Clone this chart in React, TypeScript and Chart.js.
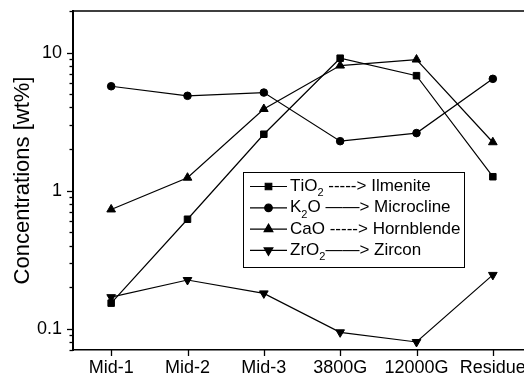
import React, { useEffect, useRef } from "react";
import { Chart, registerables } from "chart.js";
import { drawPoint } from "chart.js/helpers";

Chart.register(...registerables);

const categories = ["Mid-1", "Mid-2", "Mid-3", "3800G", "12000G", "Residue"];
const tio2 = [0.153, 0.62, 2.56, 9.1, 6.8, 1.26];
const k2o = [5.7, 4.86, 5.13, 2.28, 2.61, 6.45];
const cao = [0.73, 1.24, 3.9, 8.05, 8.9, 2.24];
const zro2 = [0.169, 0.225, 0.18, 0.094, 0.08, 0.245];
const seriesLabels = [
  "TiO\u2082 -----> Ilmenite",
  "K\u2082O \u2014\u2014> Microcline",
  "CaO -----> Hornblende",
  "ZrO\u2082\u2014\u2014> Zircon",
];
const majorTickLabels = [0.1, 1, 10];

const FONT = "'Liberation Sans', Arial, sans-serif";

function drawRichText(ctx: CanvasRenderingContext2D, text: string, x: number, y: number, size: number) {
  let cx = x;
  for (const ch of text) {
    if (ch === "\u2082") {
      ctx.font = `${Math.round(size * 0.62)}px ${FONT}`;
      ctx.fillText("2", cx, y + size * 0.4);
      cx += ctx.measureText("2").width;
    } else {
      ctx.font = `${size}px ${FONT}`;
      ctx.fillText(ch, cx, y);
      cx += ctx.measureText(ch).width;
    }
  }
}

const framePlugin = {
  id: "frameAndTicks",
  afterDraw(chart: any) {
    const ctx = chart.ctx as CanvasRenderingContext2D;
    const { left, right, top, bottom } = chart.chartArea;
    const ys = chart.scales.y;
    const xs = chart.scales.x;
    ctx.save();
    ctx.strokeStyle = "#000";
    // top and right frame
    ctx.lineWidth = 1.5;
    ctx.beginPath();
    ctx.moveTo(left, top);
    ctx.lineTo(right, top);
    ctx.lineTo(right, bottom);
    ctx.stroke();
    // y ticks (outside)
    for (let e = -2; e <= 1; e++) {
      for (let m = 1; m <= 9; m++) {
        const v = m * Math.pow(10, e);
        if (v < ys.min - 1e-9 || v > ys.max + 1e-9) continue;
        const py = Math.round(ys.getPixelForValue(v)) + 0.5;
        const len = m === 1 ? 6 : 3.5;
        ctx.lineWidth = 1.3;
        ctx.beginPath();
        ctx.moveTo(left - len, py);
        ctx.lineTo(left, py);
        ctx.stroke();
      }
    }
    // x ticks
    categories.forEach((_, i) => {
      const px = Math.round(xs.getPixelForValue(i)) + 0.5;
      ctx.lineWidth = 1.3;
      ctx.beginPath();
      ctx.moveTo(px, bottom);
      ctx.lineTo(px, bottom + 6);
      ctx.stroke();
    });
    // legend
    const bx = 243.5, by = 172.5, bw = 221, bh = 95;
    ctx.lineWidth = 1;
    ctx.strokeRect(bx, by, bw, bh);
    const fs = 17;
    chart.data.datasets.forEach((ds: any, i: number) => {
      const cy = 186.5 + i * 21.3;
      ctx.lineWidth = 1.2;
      ctx.strokeStyle = "#000";
      ctx.beginPath();
      ctx.moveTo(250, cy);
      ctx.lineTo(287, cy);
      ctx.stroke();
      ctx.fillStyle = "#000";
      drawPoint(ctx, { pointStyle: ds.pointStyle, rotation: ds.pointRotation || 0, radius: ds.pointRadius, borderWidth: 1 }, 268.5, cy);
      ctx.fillStyle = "#000";
      ctx.textBaseline = "middle";
      ctx.textAlign = "left";
      drawRichText(ctx, ds.label, 290, cy, fs);
    });
    ctx.restore();
  },
};

export default function App() {
  const ref = useRef<HTMLCanvasElement>(null);
  useEffect(() => {
    if (!ref.current) return;
    const mk = (label: string, data: number[], pointStyle: string, radius: number, rotation = 0) => ({
      label,
      data,
      pointStyle,
      pointRadius: radius,
      pointRotation: rotation,
      pointBackgroundColor: "#000",
      pointBorderColor: "#000",
      pointBorderWidth: 1,
      borderColor: "#000",
      borderWidth: 1.2,
      backgroundColor: "#000",
      tension: 0,
      fill: false,
    });
    const chart = new Chart(ref.current, {
      type: "line",
      data: {
        labels: categories,
        datasets: [
          mk(seriesLabels[0], tio2, "rect", 4.6),
          mk(seriesLabels[1], k2o, "circle", 3.8),
          mk(seriesLabels[2], cao, "triangle", 5),
          mk(seriesLabels[3], zro2, "triangle", 5, 180),
        ],
      },
      options: {
        animation: false,
        responsive: false,
        layout: { padding: { left: 0, top: 11, right: 9, bottom: 0 } },
        plugins: { legend: { display: false }, tooltip: { enabled: false } },
        scales: {
          x: {
            type: "category",
            offset: true,
            grid: { display: false, drawTicks: false },
            border: { display: true, color: "#000", width: 1.5 },
            ticks: { color: "#000", font: { family: FONT, size: 18 }, padding: 7, maxRotation: 0, autoSkip: false },
            afterFit: (s: any) => { s.height = 26; s.paddingLeft = 0; s.paddingRight = 0; },
          },
          y: {
            type: "logarithmic",
            min: 0.07,
            max: 20,
            grid: { display: false, drawTicks: false },
            border: { display: true, color: "#000", width: 2 },
            ticks: {
              color: "#000",
              font: { family: FONT, size: 18 },
              padding: 11,
              autoSkip: false,
              callback: (v: any) => {
                const n = Number(v);
                const hit = majorTickLabels.find((t) => Math.abs(t - n) / t < 1e-6);
                return hit !== undefined ? String(hit) : "";
              },
            },
            title: {
              display: true,
              text: "Concentrations [wt%]",
              color: "#000",
              font: { family: FONT, size: 22 },
              padding: { top: 10, bottom: 0 },
            },
            afterFit: (s: any) => { s.width = 73; s.paddingTop = 0; s.paddingBottom = 0; },
          },
        },
      },
      plugins: [framePlugin],
    });
    return () => chart.destroy();
  }, []);
  return (
    <div style={{ position: "fixed", left: 0, top: 0, width: 524, height: 376, overflow: "hidden", background: "#fff" }}>
      <canvas ref={ref} width={540} height={376} style={{ display: "block" }} />
    </div>
  );
}
